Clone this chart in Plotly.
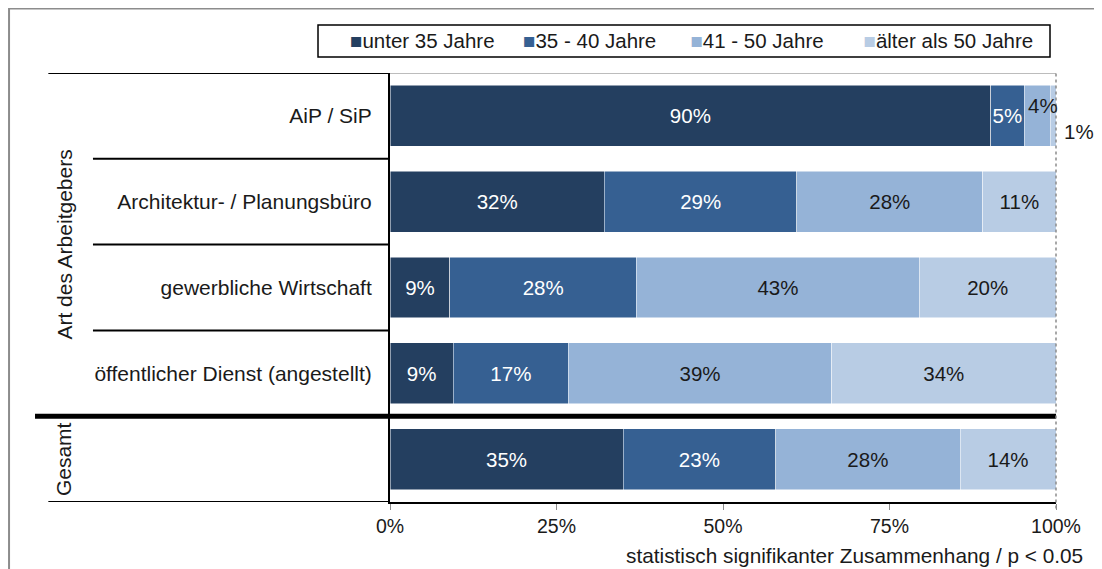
import plotly.graph_objects as go

categories = ["AiP / SiP", "Architektur- / Planungsbüro", "gewerbliche Wirtschaft",
              "öffentlicher Dienst (angestellt)", "Gesamt"]
series_names = ["unter 35 Jahre", "35 - 40 Jahre", "41 - 50 Jahre", "älter als 50 Jahre"]
unter35 = [90.2, 32.2, 9.0, 9.5, 35.0]
j35_40 = [5.0, 28.9, 28.0, 17.3, 22.9]
j41_50 = [3.9, 27.9, 42.5, 39.5, 27.7]
aelter50 = [0.9, 11.0, 20.5, 33.7, 14.4]
labels_unter35 = ["90%", "32%", "9%", "9%", "35%"]
labels_35_40 = ["5%", "29%", "28%", "17%", "23%"]
labels_41_50 = ["4%", "28%", "43%", "39%", "28%"]
labels_aelter50 = ["1%", "11%", "20%", "34%", "14%"]
x_ticks = [0, 25, 50, 75, 100]
x_tick_labels = ["0%", "25%", "50%", "75%", "100%"]

colors = ["#243F60", "#366092", "#95B3D7", "#B8CCE4"]
text_colors = ["white", "white", "#1a1a1a", "#1a1a1a"]
values = [unter35, j35_40, j41_50, aelter50]
labels = [labels_unter35, labels_35_40, labels_41_50, labels_aelter50]

FONT = "Liberation Sans, Arial, sans-serif"
FS = 20.5

fig = go.Figure()
for i in range(4):
    txt = list(labels[i])
    if i >= 2:
        txt[0] = ""
    fig.add_trace(go.Bar(
        y=categories, x=values[i], name=series_names[i], orientation="h",
        marker=dict(color=colors[i], line=dict(width=0.5, color="white")),
        text=txt, textposition="inside", insidetextanchor="middle",
        textangle=0, constraintext="none",
        textfont=dict(color=text_colors[i], size=FS, family=FONT),
        width=0.71, hoverinfo="skip", showlegend=False,
    ))

# labels for the two tiny segments of the first row
cum3 = unter35[0] + j35_40[0]
fig.add_annotation(x=cum3 + j41_50[0] / 2, y=0, yshift=10, xshift=6, xref="x", yref="y",
                   text=labels_41_50[0], showarrow=False,
                   font=dict(size=FS, family=FONT, color="#1a1a1a"))
fig.add_annotation(x=100, y=0, yshift=-16, xshift=6, xref="x", yref="y",
                   xanchor="left", text=labels_aelter50[0], showarrow=False,
                   font=dict(size=FS, family=FONT, color="#1a1a1a"))

shapes = []
# outer frame
shapes.append(dict(type="rect", xref="paper", yref="paper", x0=-0.572, x1=1.3,
                   y0=-0.4, y1=1.1503, line=dict(color="#8c8c8c", width=2)))
# legend box
shapes.append(dict(type="rect", xref="paper", yref="paper", x0=-0.1081, x1=0.991,
                   y0=1.0373, y1=1.1119, line=dict(color="black", width=1.5),
                   fillcolor="white"))
# left category separators
shapes.append(dict(type="line", xref="paper", yref="y", x0=-0.513, x1=0, y0=-0.5, y1=-0.5,
                   line=dict(color="black", width=2)))
for yy in [0.5, 1.5, 2.5]:
    shapes.append(dict(type="line", xref="paper", yref="y", x0=-0.446, x1=0, y0=yy, y1=yy,
                       line=dict(color="black", width=2)))
shapes.append(dict(type="line", xref="paper", yref="y", x0=-0.513, x1=0, y0=4.5, y1=4.5,
                   line=dict(color="black", width=2)))
# thick separator before total
shapes.append(dict(type="line", xref="paper", yref="y", x0=-0.533, x1=1.0, y0=3.5, y1=3.5,
                   line=dict(color="black", width=5)))
# top border of plot area
shapes.append(dict(type="line", xref="paper", yref="y", x0=0, x1=1, y0=-0.5, y1=-0.5,
                   line=dict(color="#a6a6a6", width=1.5)))
# right dotted border
shapes.append(dict(type="line", xref="paper", yref="paper", x0=1, x1=1, y0=-0.015, y1=1,
                   line=dict(color="#8c8c8c", width=1.5, dash="dot")))
fig.update_layout(shapes=shapes)

# legend as text
gaps = [5, 6, 7]
parts = [f'<span style="color:{c}">■</span>{n}' for c, n in zip(colors, series_names)]
legend_text = parts[0]
for g, p in zip(gaps, parts[1:]):
    legend_text += "&nbsp;" * g + p
fig.add_annotation(text=legend_text, xref="paper", yref="paper", x=-0.0631, y=1.0746,
                   xanchor="left", yanchor="middle", showarrow=False,
                   font=dict(size=FS, family=FONT, color="#1a1a1a"))

fig.add_annotation(text="Art des Arbeitgebers", textangle=-90, xref="paper", yref="y",
                   x=-0.488, y=1.5, xanchor="center", yanchor="middle", showarrow=False,
                   font=dict(size=21, family=FONT, color="#1a1a1a"))
fig.add_annotation(text="Gesamt", textangle=-90, xref="paper", yref="y",
                   x=-0.491, y=4.0, xanchor="center", yanchor="middle", showarrow=False,
                   font=dict(size=21, family=FONT, color="#1a1a1a"))
fig.add_annotation(text="statistisch signifikanter Zusammenhang / p < 0.05",
                   xref="paper", yref="paper", x=1.043, y=-0.124, xanchor="right",
                   yanchor="middle", showarrow=False,
                   font=dict(size=20.8, family=FONT, color="#1a1a1a"))

fig.update_layout(
    width=1094, height=561,
    margin=dict(l=382, r=46, t=65, b=67, pad=0),
    barmode="stack", bargap=0.29,
    paper_bgcolor="white", plot_bgcolor="white",
    font=dict(family=FONT, size=FS, color="#1a1a1a"),
    showlegend=False,
    xaxis=dict(range=[0, 100], tickvals=x_ticks, ticktext=x_tick_labels,
               showgrid=False, zeroline=False, showline=True, linecolor="black",
               linewidth=1.5, ticks="outside", ticklen=6, tickcolor="#8c8c8c",
               tickfont=dict(size=19.5, family=FONT, color="#1a1a1a"), fixedrange=True),
    yaxis=dict(categoryorder="array", categoryarray=categories,
               range=[4.5, -0.5], autorange=False, showgrid=False, zeroline=False,
               showline=True, linecolor="black", linewidth=2, ticks="",
               ticklabelstandoff=12,
               tickvals=categories[:4], ticktext=categories[:4],
               tickfont=dict(size=21, family=FONT, color="#1a1a1a"), fixedrange=True),
)

fig.write_html("out.html")
